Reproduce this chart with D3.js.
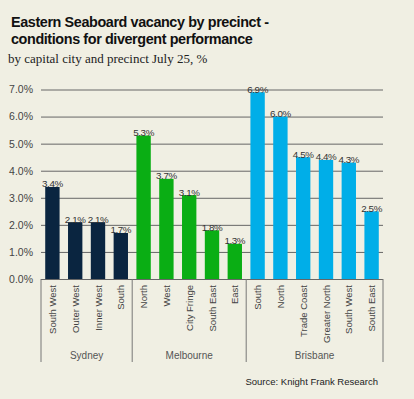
<!DOCTYPE html>
<html>
<head>
<meta charset="utf-8">
<script src="https://cdn.jsdelivr.net/npm/d3@7"></script>
<style>
  html, body { margin: 0; padding: 0; background: #f0efe3; }
  svg { display: block; }
</style>
</head>
<body>
<div id="chart"></div>
<script>
// data
const cities = ["Sydney", "Melbourne", "Brisbane"];
const sydneyPrecincts = ["South West", "Outer West", "Inner West", "South"];
const sydneyValues = [3.4, 2.1, 2.1, 1.7];
const melbournePrecincts = ["North", "West", "City Fringe", "South East", "East"];
const melbourneValues = [5.3, 3.7, 3.1, 1.8, 1.3];
const brisbanePrecincts = ["South", "North", "Trade Coast", "Greater North", "South West", "South East"];
const brisbaneValues = [6.9, 6.0, 4.5, 4.4, 4.3, 2.5];
const yTicks = [0, 1, 2, 3, 4, 5, 6, 7];
const cityColors = ["#0a2540", "#0aae14", "#00aee8"];

const width = 414;
const height = 399;
const margin = { top: 89.5, bottom: 120, left: 41, right: 31 };

// flatten into one row per bar
const bars = [];
[[sydneyPrecincts, sydneyValues], [melbournePrecincts, melbourneValues], [brisbanePrecincts, brisbaneValues]]
  .forEach((pair, ci) => {
    pair[0].forEach((p, i) => {
      bars.push({ key: cities[ci] + "|" + p, precinct: p, city: cities[ci], ci: ci, value: pair[1][i] });
    });
  });

const svg = d3.select("#chart").append("svg")
  .attr("width", width).attr("height", height);

svg.append("rect").attr("width", width).attr("height", height).attr("fill", "#f0efe3");

// titles
svg.append("text").attr("x", 11).attr("y", 27)
  .attr("font-family", "Liberation Sans, Arial, sans-serif").attr("font-weight", "bold")
  .attr("font-size", 14.4).attr("letter-spacing", -0.4).attr("fill", "#111")
  .text("Eastern Seaboard vacancy by precinct -");
svg.append("text").attr("x", 11).attr("y", 43.5)
  .attr("font-family", "Liberation Sans, Arial, sans-serif").attr("font-weight", "bold")
  .attr("font-size", 14.4).attr("letter-spacing", -0.4).attr("fill", "#111")
  .text("conditions for divergent performance");
svg.append("text").attr("x", 8).attr("y", 63)
  .attr("font-family", "Liberation Serif, Times New Roman, serif")
  .attr("font-size", 13).attr("fill", "#222")
  .text("by capital city and precinct July 25, %");

const x = d3.scaleBand()
  .domain(bars.map(d => d.key))
  .range([margin.left, width - margin.right])
  .paddingInner(0.37)
  .paddingOuter(0.185);

const y = d3.scaleLinear()
  .domain([0, 7])
  .range([height - margin.bottom, margin.top]);

// gridlines + y labels
const yAxis = d3.axisLeft(y)
  .tickValues(yTicks)
  .tickSize(-(width - margin.right - margin.left))
  .tickPadding(8)
  .tickFormat(d => d3.format(".1f")(d) + "%");

const gy = svg.append("g")
  .attr("transform", `translate(${margin.left},0)`)
  .call(yAxis);
gy.select(".domain").remove();
gy.selectAll(".tick line").attr("stroke", "#666").attr("stroke-width", 1);
gy.selectAll(".tick text")
  .attr("font-family", "Liberation Sans, Arial, sans-serif")
  .attr("font-size", 10.5).attr("fill", "#444");

// bars
svg.append("g").selectAll("rect")
  .data(bars)
  .enter().append("rect")
  .attr("x", d => x(d.key))
  .attr("y", d => y(d.value))
  .attr("width", x.bandwidth())
  .attr("height", d => y(0) - y(d.value))
  .attr("fill", d => cityColors[d.ci]);

// value labels
svg.append("g").selectAll("text")
  .data(bars)
  .enter().append("text")
  .attr("x", d => x(d.key) + x.bandwidth() / 2)
  .attr("y", d => y(d.value) + 0.5)
  .attr("text-anchor", "middle")
  .attr("font-family", "Liberation Sans, Arial, sans-serif")
  .attr("font-size", 9.8).attr("letter-spacing", -0.4).attr("fill", "#333")
  .text(d => d3.format(".1f")(d.value) + "%");

// category labels
const y0 = y(0);
svg.append("g").selectAll("text")
  .data(bars)
  .enter().append("text")
  .attr("transform", d => `translate(${x(d.key) + x.bandwidth() / 2 + 3.5},${y0 + 6}) rotate(-90)`)
  .attr("text-anchor", "end")
  .attr("font-family", "Liberation Sans, Arial, sans-serif")
  .attr("font-size", 9.5).attr("fill", "#444")
  .text(d => d.precinct);

// group separators and city labels
const step = x.step();
const bounds = [margin.left];
cities.forEach(c => {
  const last = bars.filter(b => b.city === c).pop();
  bounds.push(x(last.key) + x.bandwidth() + x.paddingInner() * step / 2);
});
bounds[bounds.length - 1] = width - margin.right;

svg.append("g").selectAll("line")
  .data(bounds)
  .enter().append("line")
  .attr("x1", d => d).attr("x2", d => d)
  .attr("y1", y0).attr("y2", y0 + 83)
  .attr("stroke", "#777").attr("stroke-width", 1);

svg.append("g").selectAll("text")
  .data(cities)
  .enter().append("text")
  .attr("x", (d, i) => (bounds[i] + bounds[i + 1]) / 2)
  .attr("y", y0 + 80)
  .attr("text-anchor", "middle")
  .attr("font-family", "Liberation Sans, Arial, sans-serif")
  .attr("font-size", 10).attr("fill", "#555")
  .text(d => d);

// source
svg.append("text")
  .attr("x", 378).attr("y", 385)
  .attr("text-anchor", "end")
  .attr("font-family", "Liberation Sans, Arial, sans-serif")
  .attr("font-size", 9.5).attr("fill", "#222")
  .text("Source: Knight Frank Research");
</script>
</body>
</html>
